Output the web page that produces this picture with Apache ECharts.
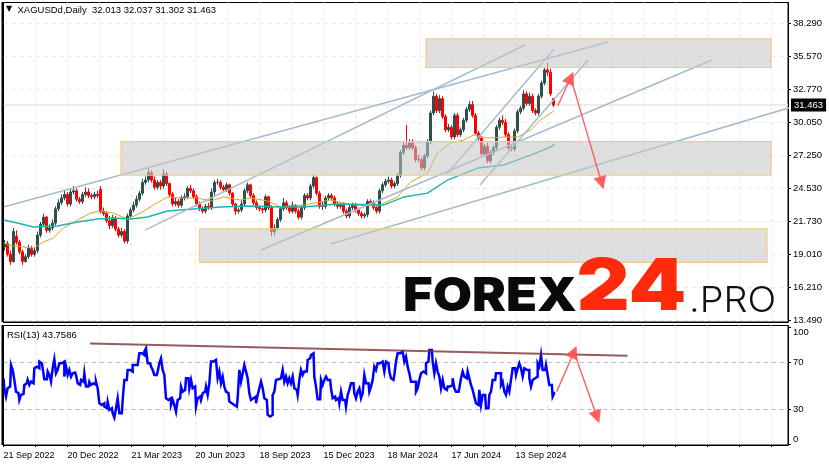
<!DOCTYPE html>
<html><head><meta charset="utf-8">
<style>html,body{margin:0;padding:0;background:#fff}#c{width:829px;height:466px}</style>
<script src="https://cdn.jsdelivr.net/npm/echarts@6/dist/echarts.min.js"></script>
</head><body><div id="c"></div>
<script>
const opens=[19.6,19.9,19.0,18.4,20.5,20.0,19.2,18.4,18.8,19.5,
19.0,19.3,20.6,21.5,22.1,21.0,21.2,21.6,22.8,23.3,
23.7,24.0,23.2,24.2,24.3,23.6,23.4,24.0,24.2,23.9,
23.8,24.0,24.4,22.6,22.4,21.8,21.4,22.0,21.1,20.6,
20.9,20.1,22.2,22.7,23.1,23.6,24.1,25.0,25.2,25.8,
25.2,24.6,25.0,24.7,25.7,24.9,24.0,23.2,23.4,23.1,
23.7,23.8,24.5,24.3,23.8,23.2,22.8,22.6,23.0,22.9,
24.2,25.0,25.0,24.6,24.4,24.8,24.1,23.2,22.6,22.7,
23.2,24.3,24.8,23.9,23.3,22.9,22.8,22.7,23.8,22.9,
20.9,21.2,21.9,22.8,23.3,22.9,22.6,23.1,22.6,22.1,
22.9,23.9,23.7,24.7,25.4,24.1,23.0,23.0,23.7,23.9,
23.7,23.2,23.0,23.1,22.6,22.2,22.9,23.1,22.7,22.4,
22.2,22.3,23.4,23.3,22.9,22.6,24.3,24.8,25.1,25.2,
24.7,24.9,25.6,27.5,28.1,27.9,28.3,27.9,26.9,26.9,
26.2,27.2,28.4,30.8,32.2,31.0,32.0,30.5,29.4,29.6,
28.8,30.6,29.0,29.4,30.2,31.1,31.5,30.6,29.1,28.7,
27.4,28.0,26.8,27.5,27.9,29.6,30.2,30.0,29.0,27.9,
27.8,29.3,30.9,31.2,32.4,31.6,32.2,31.0,30.8,32.2,
33.3,34.4,34.2,32.013];
const closes=[19.9,19.0,18.4,20.9,20.0,19.2,18.4,18.8,19.5,19.0,
19.3,20.6,21.5,22.1,21.0,21.2,21.6,22.8,23.3,23.7,
24.0,23.2,24.2,24.3,23.6,23.4,24.0,24.2,23.9,23.8,
24.0,23.9,22.6,22.4,21.8,21.4,22.0,21.1,20.6,20.9,
20.1,22.2,22.7,23.1,23.6,24.1,25.0,25.2,25.8,25.2,
24.6,25.0,24.7,25.7,24.9,24.0,23.2,23.4,23.1,23.7,
23.8,24.5,24.3,23.8,23.2,22.8,22.6,23.0,22.9,24.2,
25.0,25.0,24.6,24.4,24.8,24.1,23.2,22.6,22.7,23.2,
24.3,24.8,23.9,23.3,22.9,22.8,22.7,23.8,22.9,20.9,
21.2,21.9,22.8,23.3,22.9,22.6,23.1,22.6,22.1,22.9,
23.9,23.7,24.7,25.4,24.1,23.0,23.0,23.7,23.9,23.7,
23.2,23.0,23.1,22.6,22.2,22.9,23.1,22.7,22.4,22.2,
22.3,23.4,23.3,22.9,22.6,24.3,24.8,25.1,25.2,24.7,
24.9,25.6,27.5,28.1,27.9,28.3,27.9,26.9,26.9,26.2,
27.2,28.4,30.8,32.2,31.0,32.0,30.5,29.4,29.6,28.8,
30.6,29.0,29.4,30.2,31.1,31.5,30.6,29.1,28.7,27.4,
28.0,26.8,27.5,27.9,29.6,30.2,30.0,29.0,27.9,27.8,
29.3,30.9,31.2,32.4,31.6,32.2,31.0,30.8,32.2,33.3,
34.4,34.2,32.4,31.463];
const highs=[20.2,20.1,19.3,21.2,21.0,20.2,19.4,19.0,19.8,19.7,
19.6,20.9,21.7,22.4,22.2,21.5,21.9,23.0,23.6,24.0,
24.3,24.2,24.5,24.7,24.5,23.8,24.2,24.6,24.5,24.1,
24.2,24.3,24.7,22.9,22.6,22.2,22.3,22.2,21.3,21.2,
21.1,22.4,22.9,23.4,23.9,24.3,25.3,25.5,26.3,26.0,
25.5,25.2,25.2,26.1,25.9,25.0,24.2,23.7,23.6,23.9,
24.1,24.7,24.8,24.5,24.0,23.4,23.0,23.2,23.3,24.5,
25.2,25.3,25.2,24.8,25.0,24.9,24.2,23.3,22.9,23.5,
24.5,25.0,24.9,24.1,23.5,23.1,22.9,24.0,23.9,23.1,
21.5,22.1,23.0,23.7,23.5,23.1,23.4,23.2,22.8,23.1,
24.1,24.1,24.9,25.7,25.5,24.3,23.4,23.9,24.1,24.1,
23.9,23.4,23.3,23.3,22.8,23.1,23.3,23.3,22.9,22.6,
22.5,23.6,23.6,23.5,23.1,24.5,25.0,25.3,25.5,25.4,
25.1,25.8,27.7,28.4,29.8,28.6,28.6,28.1,27.3,27.1,
27.4,28.6,31.0,32.6,32.4,32.3,32.2,30.7,29.9,29.8,
30.8,30.8,29.6,30.4,31.3,31.8,31.8,30.8,29.3,28.9,
28.2,28.3,27.7,28.1,29.8,30.4,30.6,30.3,29.2,28.1,
29.5,31.1,31.4,32.7,32.6,32.5,32.4,31.2,32.4,33.5,
34.6,35.0,34.5,32.037];
const lows=[19.3,18.8,18.1,18.3,19.8,19.0,18.1,18.3,18.6,18.8,
18.8,19.1,20.4,21.3,20.8,20.8,21.0,21.4,22.6,23.1,
23.5,23.0,23.0,24.0,23.4,23.2,23.2,23.8,23.7,23.6,
23.6,23.7,22.4,22.2,21.6,21.1,21.2,20.9,20.4,20.4,
19.9,19.9,22.0,22.5,22.9,23.4,23.9,24.8,25.0,25.0,
24.4,24.4,24.4,24.5,24.7,23.8,23.0,23.0,22.9,22.9,
23.5,23.6,24.1,23.6,23.0,22.6,22.4,22.4,22.7,22.7,
23.9,24.8,24.4,24.2,24.2,23.9,23.0,22.3,22.4,22.5,
23.0,24.1,23.7,23.1,22.7,22.6,22.4,22.5,22.7,20.5,
20.6,21.0,21.7,22.6,22.7,22.4,22.4,22.4,21.9,21.9,
22.7,23.5,23.5,24.5,23.9,22.8,22.7,22.8,23.5,23.5,
23.0,22.8,22.8,22.4,22.0,22.0,22.7,22.5,22.2,22.0,
22.0,22.1,23.1,22.7,22.4,22.4,24.1,24.6,24.9,24.5,
24.5,24.7,25.4,27.3,27.7,27.7,27.7,26.7,26.7,26.0,
26.0,27.0,28.2,30.6,30.8,30.8,30.3,29.2,29.2,28.6,
28.6,28.8,28.8,29.2,30.0,30.9,30.4,29.0,28.5,27.2,
27.2,26.6,26.6,27.3,27.7,29.4,29.8,28.8,27.7,27.6,
27.6,29.1,30.7,31.0,31.4,31.4,30.8,30.6,30.6,32.0,
33.1,33.9,32.2,31.302];
const ma50X=[0,10,30,40,50,60,74,87,97,110,124,137,150,164,177,194,207,220,237,247,264,277,300,327,350,374,394,407,424,434,447,460,470,484,500,514,527,537,550];
const ma50=[19.94,19.69,19.52,20.02,20.36,21.19,21.86,22.44,22.61,22.44,21.94,22.44,23.11,23.78,23.70,23.70,23.45,23.78,23.53,23.70,23.45,22.95,23.11,23.53,23.11,23.03,23.78,25.03,25.78,27.45,28.29,28.54,28.96,28.71,28.79,28.79,29.38,30.21,30.96];
const ma200X=[0,14,30,54,74,94,110,127,144,164,190,217,244,277,300,334,380,400,424,444,474,500,527,547,551];
const ma200=[21.86,21.61,21.28,21.36,21.69,21.94,22.03,21.94,22.11,22.61,22.78,22.95,23.03,22.95,22.95,23.2,23.11,23.78,24.11,25.2,26.2,26.45,27.28,27.95,28.2];
const rsi=[56.4,47.9,40.8,47.9,49.3,67.7,63.5,55,45,43.6,
37.9,42.2,43,50.7,52.1,55,50.7,53.5,52.1,64.9,
66.3,64.9,70.6,69.2,64.9,55.5,55.5,62.1,59.2,53.5,
64.9,72.6,60.6,63.5,69.2,69.2,70.6,57.8,66.3,59.2,
63.5,57.8,60.6,61.2,59.2,52.1,50.7,55,53.5,60.6,
49.3,49.3,53.5,50.7,52.1,50.7,53.5,47.9,35.1,33.7,
35.1,32.3,30.9,36.5,29.4,30.9,26.6,22.9,30.9,39.4,
26.6,26.6,37.9,55,55,63.5,63.5,62.1,67.7,67.7,
67.7,69.2,77.7,77.7,76.2,79.1,81.9,69.2,69.2,66.3,
63.5,59.2,59.2,62.1,69.2,73.4,63.5,59.2,39.4,37.9,
39.4,33.7,37.9,33.7,28,37.9,39.4,49.3,45,46.5,
56.4,56.4,47.9,55,47.9,49.3,32.3,39.4,40.8,37.9,
43.6,45,49.3,42.2,52.1,70.6,70.6,72,72,56.4,
62.1,52.1,57.8,49.3,45,43.6,36.5,35.1,33.7,33.7,
32.3,39.4,63.5,53.5,60.6,67.7,62.1,56.4,43.6,37.9,
39.4,40.8,35.1,42.2,47.9,53.5,47.9,39.4,37.9,25.2,
23.8,25.2,42.2,45,55,55.5,56.4,
57.8,63.5,53.5,57.8,52.1,56.4,52.1,57.8,47.9,46.5,
42.2,55,63.5,59.2,62.1,62.1,72,73.4,76.2,77.7,
57.8,49.3,38.5,38.5,55,50.7,55,57.8,55,55,
47.9,39.4,40.8,37.9,39.4,35.1,45,37.9,37.9,32.3,
42.2,46.5,52.1,52.1,43.6,39.4,45,47.9,39.4,43.6,
59.2,52.1,52.1,45,49.3,55,66.3,63.5,69.2,69.2,
70.6,69.2,62.1,70.6,69.2,62.1,56.4,55,59.2,70.6,
77.7,77.7,79.1,77.7,70.6,74.8,66.3,60.6,53.5,53.5,
53.5,45,47.9,55,60.6,62.1,60.6,69.2,70.6,80.5,
80.5,70.6,60.6,69.2,62.1,57.8,47.9,55,47.9,46.5,
49.3,49.3,50.7,56.4,47.9,45,45,47.9,56.4,62.1,
57.8,56.4,62.1,56.4,50.7,46.5,40.8,35.1,33.7,46.5,
33.7,42.2,42.2,30.9,30.9,42.2,45,55,55,60.6,
60.6,60.6,50.7,53.5,45,42.2,49.3,45,55,64.9,
64.9,59.2,64.9,69.2,64.9,57.8,64.9,63.5,63.5,56.4,
49.3,55,56.4,57.8,69.2,66.3,76.2,63.5,63.5,67.7,
59.2,50.7,50.7,40.8,43.76];
const priceTicks=[38.29,35.57,32.77,30.05,27.25,24.53,21.73,19.01,16.21,13.49];
const rsiTicks=[0,30,70,100];
const rsiLevels=[30,70];
const dateLabels=['21 Sep 2022','20 Dec 2022','21 Mar 2023','20 Jun 2023','18 Sep 2023','15 Dec 2023','18 Mar 2024','17 Jun 2024','13 Sep 2024'];
const lastPrice=31.463;
const zones=[[422.5,37.00,767.5,34.60],[117.5,28.40,767.5,25.60],[196,21.13,763.5,18.32]];
const trendLines=[
 [[0,22.94],[604.5,36.73]],
 [[141.5,21.02],[521.5,36.48]],
 [[257.5,19.35],[708.5,35.23]],
 [[327.5,19.85],[825.5,32.22]],
 [[443.5,25.7],[550.5,36.14]],
 [[476.5,24.79],[584.5,35.23]]];
const priceArrows=[[[554.2,31.38],[567.2,33.75]],[[567.2,33.75],[598.2,24.95]]];
const rsiTrend=[[86.5,86],[624,75.6]];
const rsiArrows=[[[553.2,45],[570.5,78.8]],[[570.5,78.8],[593.5,23.4]]];

const FONT='"Liberation Sans"',FS=9.5;
const lineSer=(g,d,color,width,z,extra)=>Object.assign({type:'line',xAxisIndex:g,yAxisIndex:g,data:d,showSymbol:false,silent:true,animation:false,clip:false,z,lineStyle:{color,width},itemStyle:{color}},extra||{});
const arrowSer=(g,arr)=>({type:'line',xAxisIndex:g,yAxisIndex:g,data:[],silent:true,animation:false,z:8,
 markLine:{silent:true,animation:false,symbol:['none','triangle'],symbolSize:13,z:8,precision:3,label:{show:false},
  lineStyle:{color:'rgba(255,80,80,.9)',width:1.4,type:'solid'},itemStyle:{color:'rgba(255,70,70,.95)'},
  data:arr.map(a=>[{coord:a[0]},{coord:a[1]}])}});
const vSplit={show:true,showMinLine:false,lineStyle:{color:'#e8e8e8',type:[4,4],width:1}};
const axisBase={min:0,max:784.5,interval:32,type:'value',axisLine:{lineStyle:{color:'#000'},onZero:false},splitLine:vSplit};
const candles=closes.map((c,i)=>[i*3+1,opens[i],c,lows[i],highs[i]]);
const txt={fontFamily:FONT,fontSize:FS,fontWeight:'normal',color:'#000'};

const option={
 animation:false,backgroundColor:'#fff',
 textStyle:{fontFamily:FONT},
 title:[
  {text:'▼',left:6,top:5,padding:0,textStyle:{fontFamily:'"DejaVu Sans"',fontSize:8,fontWeight:'normal',color:'#000'}},
  {text:'XAGUSDd,Daily  32.013 32.037 31.302 31.463',left:17.5,top:5,padding:0,textStyle:txt},
  {text:'RSI(13) 43.7586',left:7,top:330,padding:0,textStyle:txt}],
 grid:[
  {left:3.5,right:41,top:2.5,height:319.5,show:true,borderColor:'#000',borderWidth:1,backgroundColor:'#fff'},
  {left:3.5,right:41,top:325.5,height:119.5,show:true,borderColor:'#000',borderWidth:1,backgroundColor:'#fff'}],
 xAxis:[
  Object.assign({},axisBase,{gridIndex:0,axisTick:{show:false},axisLabel:{show:false}}),
  Object.assign({},axisBase,{gridIndex:1,axisTick:{show:true,length:2,lineStyle:{color:'#000'}},
   axisLabel:{show:true,align:'left',margin:6,hideOverlap:false,showMinLabel:true,showMaxLabel:false,fontFamily:FONT,fontSize:9,color:'#000',
    formatter:v=>(v%64===0&&dateLabels[v/64])||''}})],
 yAxis:[
  {gridIndex:0,type:'value',position:'right',min:13.34,max:40.03,
   axisLine:{show:true,onZero:false,lineStyle:{color:'#000'}},
   axisTick:{show:true,length:3,lineStyle:{color:'#000'},customValues:priceTicks},
   axisLabel:{show:true,margin:5,padding:[2,0,0,0],fontFamily:FONT,fontSize:FS,color:'#000',customValues:priceTicks,formatter:v=>v.toFixed(3)},
   splitLine:{show:true,lineStyle:{color:'#e8e8e8',type:[4,4]}}},
  {gridIndex:1,type:'value',position:'right',min:-0.4,max:101.3,
   axisLine:{show:true,onZero:false,lineStyle:{color:'#000'}},
   axisTick:{show:true,length:3,lineStyle:{color:'#000'},customValues:rsiTicks},
   axisLabel:{show:true,margin:5,fontFamily:FONT,fontSize:FS,color:'#000',customValues:rsiTicks,verticalAlignMinLabel:'bottom',verticalAlignMaxLabel:'top'},
   splitLine:{show:false}}],
 series:[
  {type:'line',xAxisIndex:0,yAxisIndex:0,data:[],silent:true,animation:false,z:1,
   markLine:{silent:true,animation:false,symbol:'none',z:1,precision:3,
    lineStyle:{color:'#e6e6e6',width:1.5,type:'solid'},
    label:{show:true,position:'end',distance:3,formatter:()=>lastPrice.toFixed(3),color:'#fff',backgroundColor:'#000',padding:[2,3,1,3],fontFamily:FONT,fontSize:FS},
    data:[{yAxis:lastPrice}]}},
  {type:'candlestick',xAxisIndex:0,yAxisIndex:0,data:candles,encode:{x:0,y:[1,2,3,4]},barWidth:3,silent:true,animation:false,z:2,clip:false,
   itemStyle:{color:'#2f4f4f',borderColor:'#2f4f4f',color0:'#ff0000',borderColor0:'#ff0000',borderWidth:1}},
  lineSer(0,ma50X.map((x,i)=>[x,ma50[i]]),'#daa520',1,3),
  lineSer(0,ma200X.map((x,i)=>[x,ma200[i]]),'#20b2aa',1.4,3),
  ...trendLines.map(l=>lineSer(0,l,'#a5bccb',1.5,4)),
  {type:'custom',xAxisIndex:0,yAxisIndex:0,data:zones,encode:{x:[0,2],y:[1,3]},silent:true,animation:false,z:5,clip:false,
   renderItem:(p,api)=>{const a=api.coord([api.value(0),api.value(1)]),b=api.coord([api.value(2),api.value(3)]);
    return {type:'rect',shape:{x:a[0],y:a[1],width:b[0]-a[0],height:b[1]-a[1]},
     style:{fill:'rgba(197,197,197,.55)',stroke:'#f2c987',lineWidth:1.2}};}},
  arrowSer(0,priceArrows),
  lineSer(1,[], '#000',1,1,{markLine:{silent:true,animation:false,symbol:'none',label:{show:false},z:1,lineStyle:{color:'#bdbdbd',type:[4,4],width:1},data:rsiLevels.map(v=>({yAxis:v}))}}),
  lineSer(1,rsi.map((v,i)=>[i*5/3,v]),'#0000ff',2,3,{step:'middle',lineStyle:{color:'#0000ff',width:2.5,join:'miter'}}),
  lineSer(1,rsiTrend,'rgba(125,50,50,.8)',2,4),
  arrowSer(1,rsiArrows)],
 graphic:[
  {type:'rect',z:15,silent:true,shape:{x:1.5,y:2,width:2,height:320},style:{fill:'#000'}},
  {type:'rect',z:15,silent:true,shape:{x:1.5,y:325,width:2,height:120},style:{fill:'#000'}},
  {type:'text',x:403,y:320,scaleX:1.08,z:20,silent:true,style:{text:'FOREX',fill:'#0a0a0a',font:'900 47px Inter',verticalAlign:'bottom'}},
  {type:'text',x:576.5,y:324,scaleX:1.16,z:20,silent:true,style:{text:'24',fill:'#ff2a0c',font:'900 71px Inter',verticalAlign:'bottom'}},
  {type:'text',x:689,y:319.5,scaleX:1.05,z:20,silent:true,style:{text:'.PRO',fill:'#111',font:'300 36px Inter',verticalAlign:'bottom'}}]
};
echarts.init(document.getElementById('c'),null,{renderer:'canvas'}).setOption(option);
</script></body></html>
